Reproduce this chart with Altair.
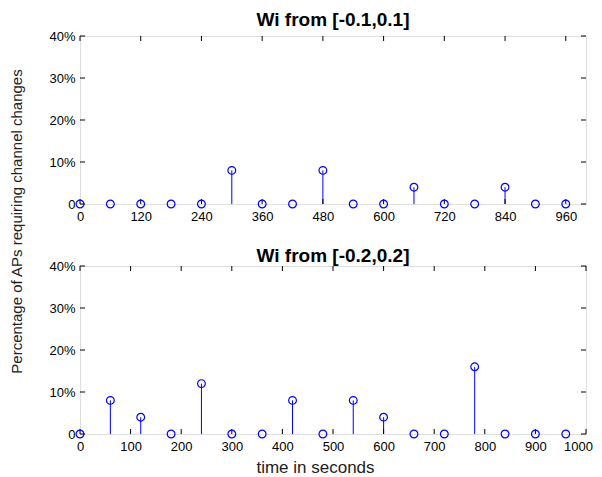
import altair as alt
import pandas as pd

times = [0, 60, 120, 180, 240, 300, 360, 420, 480, 540, 600, 660, 720, 780, 840, 900, 960]
top_vals = [0, 0, 0, 0, 0, 8, 0, 0, 8, 0, 0, 4, 0, 0, 4, 0, 0]
bottom_vals = [0, 8, 4, 0, 12, 0, 0, 8, 0, 8, 4, 0, 0, 16, 0, 0, 0]
top_xticks = [0, 120, 240, 360, 480, 600, 720, 840, 960]
bottom_xticks = [0, 100, 200, 300, 400, 500, 600, 700, 800, 900, 1000]
y_ticks = [0, 10, 20, 30, 40]
top_title = "Wi from [-0.1,0.1]"
bottom_title = "Wi from [-0.2,0.2]"
x_title = "time in seconds"
y_title = "Percentage of APs requiring channel changes"

W, H = 506, 168
BLUE = "#0000ff"
FONT = "Liberation Sans"


def panel(vals, xticks, title, title_y, show_x_title, show_y_title):
    df = pd.DataFrame({"t": times, "v": vals})
    xs = alt.Scale(domain=[0, 1000], nice=False, zero=False)
    ys = alt.Scale(domain=[0, 40], nice=False)
    xaxis_kwargs = dict(values=xticks, ticks=False, domain=False, grid=False,
                        format="d", labelPadding=6, labelFontSize=13,
                        labelColor="black", labelFont=FONT, labelFlush=False,
                        labelOffset={"condition": {"test": "datum.value == 1000",
                                                   "value": -8}, "value": 0})
    if show_x_title:
        xaxis_kwargs.update(title=x_title, titleFontSize=17, titleFont=FONT,
                            titleFontWeight="normal", titleColor="#222222",
                            titleBaseline="alphabetic", titleAlign="center",
                            titleX=235, titleY=38)
    else:
        xaxis_kwargs.update(title=None)
    xaxis = alt.Axis(**xaxis_kwargs)

    yaxis_kwargs = dict(values=y_ticks, ticks=False, domain=False, grid=False,
                        labelPadding=5, labelFontSize=13, labelColor="black",
                        labelFont=FONT,
                        labelExpr="datum.value == 0 ? '0' : datum.value + '%'")
    if show_y_title:
        yaxis_kwargs.update(title=y_title, titleFontSize=15, titleFont=FONT,
                            titleFontWeight="normal", titleColor="#222222",
                            titleBaseline="alphabetic", titleX=-59, titleY=185)
    else:
        yaxis_kwargs.update(title=None)
    yaxis = alt.Axis(**yaxis_kwargs)

    X = alt.X("t:Q", scale=xs, axis=xaxis)
    Y = alt.Y("v:Q", scale=ys, axis=yaxis)

    base = alt.Chart(df)
    stems = base.transform_filter("datum.v > 0").transform_calculate(
        b="0").mark_rule(color=BLUE, strokeWidth=1).encode(
        x=X, y=Y, y2=alt.Y2("b:Q"))
    pts = base.mark_point(shape="circle", filled=False, color=BLUE,
                          size=60, strokeWidth=1.2, opacity=1).encode(x=X, y=Y)

    xt = pd.DataFrame({"t": xticks})
    yt = pd.DataFrame({"v": y_ticks})
    tick_bot = alt.Chart(xt).mark_rule(color="black", strokeWidth=1).encode(
        x=X, y=alt.value(H), y2=alt.value(H - 5))
    tick_top = alt.Chart(xt).mark_rule(color="black", strokeWidth=1).encode(
        x=X, y=alt.value(0), y2=alt.value(5))
    tick_left = alt.Chart(yt).mark_rule(color="black", strokeWidth=1).encode(
        y=Y, x=alt.value(0), x2=alt.value(5))
    tick_right = alt.Chart(yt).mark_rule(color="black", strokeWidth=1).encode(
        y=Y, x=alt.value(W - 5), x2=alt.value(W))

    ttl = alt.Chart(pd.DataFrame({"label": [title]})).mark_text(
        font=FONT, fontSize=19, fontWeight="bold", color="black",
        align="center", baseline="alphabetic").encode(
        x=alt.value(W / 2), y=alt.value(title_y), text="label:N")

    return alt.layer(stems, tick_bot, tick_top, tick_left, tick_right, pts, ttl
                     ).properties(width=W, height=H)


top = panel(top_vals, top_xticks, top_title, -10, False, True)
bottom = panel(bottom_vals, bottom_xticks, bottom_title, -4, True, False)

chart = alt.vconcat(top, bottom, spacing=62, bounds="flush").properties(
    padding={"left": 0, "top": 2, "right": 0, "bottom": 0}
).configure_view(stroke="black", strokeWidth=1).configure(background="white")

chart.save("out.html", embed_options={"renderer": "svg", "actions": False})
